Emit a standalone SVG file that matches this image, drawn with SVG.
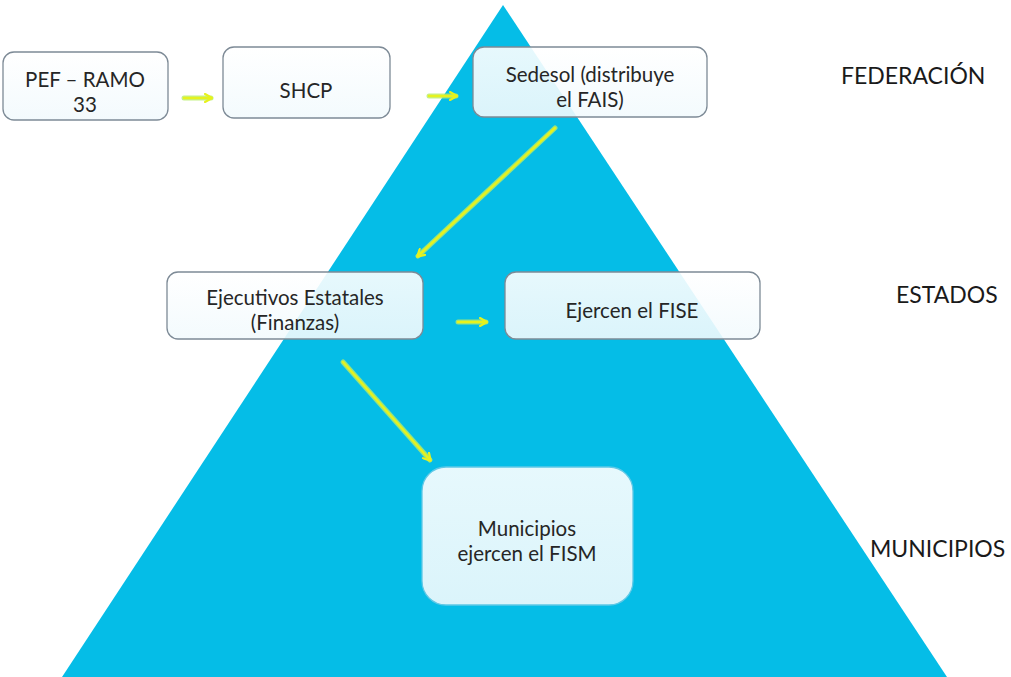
<svg xmlns="http://www.w3.org/2000/svg" width="1011" height="677" viewBox="0 0 1011 677">
  <defs>
    <style>
      .box { fill: url(#boxfill); fill-opacity: 0.9; stroke: #7d8a96; stroke-width: 1.3; }
      .t { font-family: Lato, "Open Sans", "Liberation Sans", sans-serif; font-size: 20.5px; fill: #262626; text-anchor: middle; }
      .lbl { font-family: Lato, "Open Sans", "Liberation Sans", sans-serif; font-size: 23px; fill: #1a1a1a; }
      .glow { stroke: #b7ec6a; stroke-width: 5; stroke-linecap: round; fill: none; opacity: 0.8; }
      .arr { stroke: #e6f21e; stroke-width: 2.5; stroke-linecap: round; fill: none; marker-end: url(#head); }
    </style>
    <linearGradient id="boxfill" x1="0" y1="0" x2="0" y2="1">
      <stop offset="0" stop-color="#ffffff"/>
      <stop offset="1" stop-color="#f2fafd"/>
    </linearGradient>
    <marker id="head" viewBox="0 0 10 10" refX="7" refY="5" markerWidth="4" markerHeight="4" orient="auto" markerUnits="strokeWidth">
      <polyline points="1,1 8,5 1,9" fill="none" stroke="#e6f21e" stroke-width="2.2" stroke-linecap="round" stroke-linejoin="round"/>
    </marker>
  </defs>
  <rect width="1011" height="677" fill="#ffffff"/>
  <polygon id="pyramid" points="503,5 947,677 62,677" fill="#05bde7"/>

  <g id="connectors">
    <line class="glow" x1="184" y1="98" x2="211" y2="98"/>
    <line class="arr" x1="184" y1="98" x2="211" y2="98"/>
    <line class="glow" x1="429" y1="96" x2="456" y2="96"/>
    <line class="arr" x1="429" y1="96" x2="456" y2="96"/>
    <line class="glow" x1="555" y1="128" x2="418" y2="256"/>
    <line class="arr" x1="555" y1="128" x2="418" y2="256"/>
    <line class="glow" x1="458" y1="322" x2="486" y2="322"/>
    <line class="arr" x1="458" y1="322" x2="486" y2="322"/>
    <line class="glow" x1="343" y1="362" x2="430" y2="460"/>
    <line class="arr" x1="343" y1="362" x2="430" y2="460"/>
  </g>

  <g id="pef">
    <rect class="box" x="3" y="52" width="165" height="68" rx="11"/>
    <text class="t" x="85" y="87">PEF – RAMO</text>
    <text class="t" x="85" y="112">33</text>
  </g>
  <g id="shcp">
    <rect class="box" x="223" y="47" width="167" height="71" rx="11"/>
    <text class="t" x="306" y="98">SHCP</text>
  </g>
  <g id="sedesol">
    <rect class="box" x="473" y="47" width="234" height="70" rx="11"/>
    <text class="t" x="590" y="82">Sedesol (distribuye</text>
    <text class="t" x="590" y="107">el FAIS)</text>
  </g>
  <g id="ejecutivos">
    <rect class="box" x="167" y="272" width="256" height="67" rx="11"/>
    <text class="t" x="295" y="305">Ejecutivos Estatales</text>
    <text class="t" x="295" y="330">(Finanzas)</text>
  </g>
  <g id="fise">
    <rect class="box" x="505" y="272" width="255" height="67" rx="11"/>
    <text class="t" x="632" y="318">Ejercen el FISE</text>
  </g>
  <g id="municipios">
    <rect class="box" x="422" y="467" width="211" height="138" rx="24" style="stroke:#5fc8e6"/>
    <text class="t" x="527" y="536">Municipios</text>
    <text class="t" x="527" y="561">ejercen el FISM</text>
  </g>

  <g id="levels">
    <text class="lbl" x="841" y="84">FEDERACIÓN</text>
    <text class="lbl" x="896" y="303">ESTADOS</text>
    <text class="lbl" x="870" y="557">MUNICIPIOS</text>
  </g>
</svg>
